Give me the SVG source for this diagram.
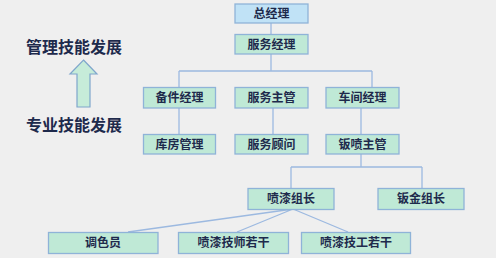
<svg xmlns="http://www.w3.org/2000/svg" width="496" height="258" viewBox="0 0 496 258">
<style>
.bg{fill:#efefef}
.n rect{fill:#bfe9d6;stroke:#8fb3d8;stroke-width:1.3}
.top rect{fill:#c0e2f6}
.n text{font-family:"Noto Sans CJK SC","Noto Sans CJK JP",sans-serif;font-size:12px;font-weight:bold;fill:#1e2a4c;text-anchor:middle}
.side{font-family:"Noto Sans CJK SC","Noto Sans CJK JP",sans-serif;font-size:16px;font-weight:bold;fill:#1e2a4c}
#connectors path{fill:none;stroke:#9cb9e0;stroke-width:1.3}
</style>
<rect class="bg" x="0" y="0" width="496" height="258"/>
<g id="connectors">
<path d="M271 23V34"/>
<path d="M271 54V71M179 71H372M179 71V87M372 71V87"/>
<path d="M179 108V134M273 108V134M361 108V134"/>
<path d="M361 154V167M291 167H422M291 167V188M422 167V188"/>
<path d="M293 209L128 232M293 209L237 232M293 209L348 232"/>
</g>
<g id="arrow">
<path d="M83.5 60L97 74H90V107H77V74H70Z" fill="#c6ecd9" stroke="#7fa6cc" stroke-width="1.2"/>
</g>
<text class="side" x="26" y="53">管理技能发展</text>
<text class="side" x="26" y="131">专业技能发展</text>
<g id="n-zongjingli" class="n top"><rect x="235" y="4" width="73" height="19"/><text x="271.5" y="18">总经理</text></g>
<g id="n-fuwujingli" class="n"><rect x="235" y="34.5" width="73" height="19.5"/><text x="271.5" y="48.5">服务经理</text></g>
<g id="n-beijian" class="n"><rect x="143.5" y="87.5" width="72" height="20.5"/><text x="179.5" y="102">备件经理</text></g>
<g id="n-fuwuzhuguan" class="n"><rect x="235" y="87.5" width="73" height="20.5"/><text x="271.5" y="102">服务主管</text></g>
<g id="n-chejian" class="n"><rect x="326" y="87.5" width="73" height="20.5"/><text x="362.5" y="102">车间经理</text></g>
<g id="n-kufang" class="n"><rect x="143.5" y="134.5" width="72" height="19.5"/><text x="179.5" y="148.5">库房管理</text></g>
<g id="n-guwen" class="n"><rect x="235" y="134.5" width="73" height="19.5"/><text x="271.5" y="148.5">服务顾问</text></g>
<g id="n-banpen" class="n"><rect x="326" y="134.5" width="73" height="19.5"/><text x="362.5" y="148.5">钣喷主管</text></g>
<g id="n-penqizuzhang" class="n"><rect x="248" y="188.5" width="86" height="21"/><text x="291" y="203">喷漆组长</text></g>
<g id="n-banjin" class="n"><rect x="378" y="188.5" width="86" height="21"/><text x="421" y="203">钣金组长</text></g>
<g id="n-tiaose" class="n"><rect x="48.5" y="232.5" width="109.5" height="21"/><text x="103" y="247">调色员</text></g>
<g id="n-jishi" class="n"><rect x="178.5" y="232.5" width="110" height="21"/><text x="233.5" y="247">喷漆技师若干</text></g>
<g id="n-jigong" class="n"><rect x="301.5" y="232.5" width="109" height="21"/><text x="356" y="247">喷漆技工若干</text></g>
</svg>
